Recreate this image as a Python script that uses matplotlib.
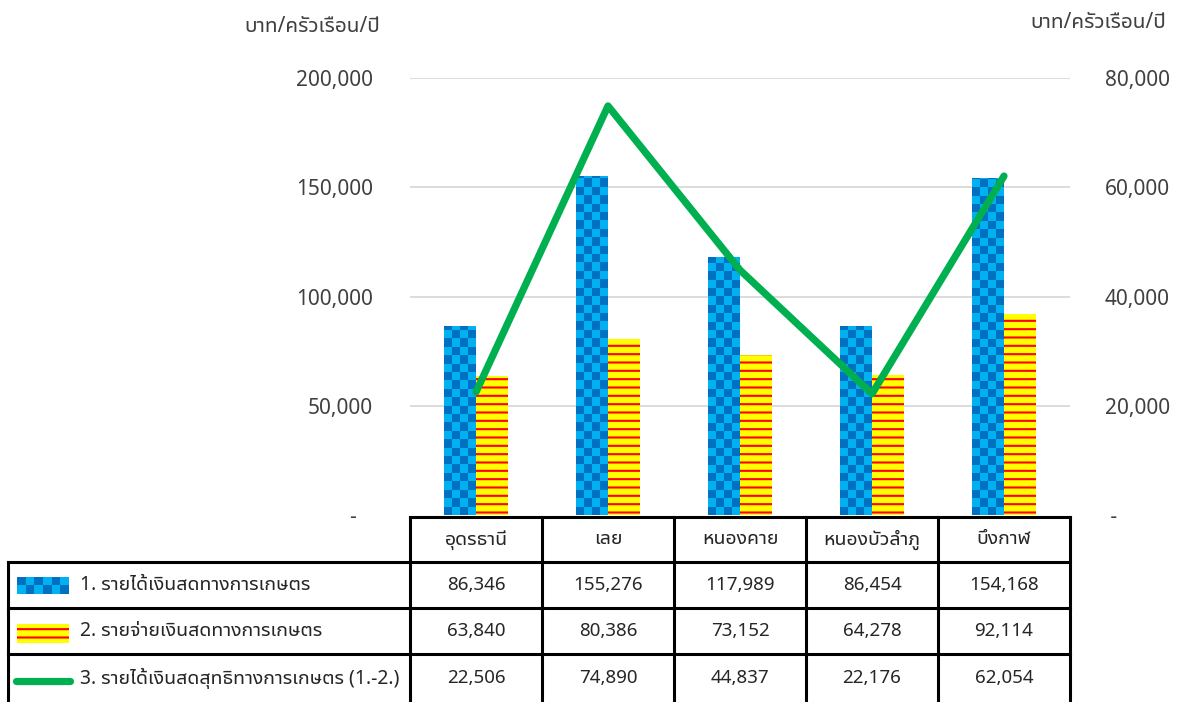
import numpy as np
import matplotlib

matplotlib.use("Agg")
import matplotlib.pyplot as plt
from matplotlib.lines import Line2D
from matplotlib.patches import Rectangle

provinces = ["อุดรธานี", "เลย", "หนองคาย", "หนองบัวลำภู", "บึงกาฬ"]
cash_income = [86346, 155276, 117989, 86454, 154168]
cash_expense = [63840, 80386, 73152, 64278, 92114]
net_income = [22506, 74890, 44837, 22176, 62054]
series_names = [
    "1. รายได้เงินสดทางการเกษตร",
    "2. รายจ่ายเงินสดทางการเกษตร",
    "3. รายได้เงินสดสุทธิทางการเกษตร (1.-2.)",
]
unit_label = "บาท/ครัวเรือน/ปี"

plt.rcParams["font.family"] = ["Noto Sans Thai UI", "Noto Sans Thai", "Loma", "Noto Sans", "DejaVu Sans"]
plt.rcParams["font.size"] = 13.5
plt.rcParams["hatch.linewidth"] = 1.5

DARK, LIGHT = "#0070C0", "#00B0F0"
YELLOW, RED, GREEN = "#FFFF00", "#FF0000", "#00B050"
AXIS_TXT = "#404040"
TABLE_TXT = "#262626"

W, H = 1181, 702
fig = plt.figure(figsize=(W / 100, H / 100), dpi=100)


def fx(px):
    return px / W


def fy(py):
    return 1 - py / H


ax_l, ax_r, ax_t, ax_b = 410, 1070, 78, 515
ax = fig.add_axes([fx(ax_l), fy(ax_b), fx(ax_r - ax_l), (ax_b - ax_t) / H])
ax2 = ax.twinx()

x = np.arange(len(provinces))
bw = 0.242
ax.set_xlim(-0.5, len(provinces) - 0.5)
ax.set_ylim(0, 200000)
ax2.set_ylim(0, 80000)

for yv in [50000, 100000, 150000, 200000]:
    ax.axhline(yv, color="#D9D9D9", lw=1.3, zorder=0)

cmap = matplotlib.colors.ListedColormap([DARK, LIGHT])

# blue bars get a checkerboard fill clipped to each bar
blue = ax.bar(x - bw / 2, cash_income, bw, color="none", lw=0, zorder=2)
cell_h = 8.4 / (ax_b - ax_t) * 200000
for bar in blue:
    x0, h = bar.get_x(), bar.get_height()
    nr = int(np.ceil(h / cell_h))
    img = np.indices((nr, 4)).sum(axis=0) % 2
    im = ax.imshow(img[::-1], cmap=cmap, extent=(x0, x0 + bw, 0, nr * cell_h),
                   aspect="auto", interpolation="nearest", zorder=2)
    im.set_clip_path(bar)

ax.bar(x + bw / 2, cash_expense, bw, color=YELLOW, edgecolor=RED, lw=0, hatch="--", zorder=2)

ax2.plot(x, net_income, color=GREEN, lw=5.2, solid_capstyle="round", solid_joinstyle="round",
         zorder=3, clip_on=False)


def fmt(v, left=True):
    if v == 0:
        return "-   " if left else " -"
    return f"{v:,.0f}"


ax.set_yticks([0, 50000, 100000, 150000, 200000])
ax.set_yticklabels([fmt(v) for v in ax.get_yticks()])
ax2.set_yticks([0, 20000, 40000, 60000, 80000])
ax2.set_yticklabels([fmt(v, False) for v in ax2.get_yticks()])
ax.tick_params(axis="y", length=0, pad=26.5, colors=AXIS_TXT, labelsize=15)
ax2.tick_params(axis="y", length=0, pad=25, colors=AXIS_TXT, labelsize=15)
ax.set_xticks([])
for a in (ax, ax2):
    for s in a.spines.values():
        s.set_visible(False)

fig.text(fx(312), fy(27), unit_label, ha="center", va="center", color=AXIS_TXT, fontsize=15)
fig.text(fx(1098), fy(22), unit_label, ha="center", va="center", color=AXIS_TXT, fontsize=15)

# data table under the plot
col_edges = [410 + 132 * i for i in range(len(provinces) + 1)]
row_edges = [517, 562, 608, 654, 702]
lk = dict(color="black", lw=2.2, solid_capstyle="projecting")
fig.add_artist(Line2D([fx(col_edges[0]), fx(col_edges[-1])], [fy(row_edges[0])] * 2, **lk))
for ry in row_edges[1:4]:
    fig.add_artist(Line2D([fx(8), fx(col_edges[-1])], [fy(ry)] * 2, **lk))
for cx in col_edges:
    fig.add_artist(Line2D([fx(cx)] * 2, [fy(row_edges[0]), fy(row_edges[-1] + 2)], **lk))
fig.add_artist(Line2D([fx(8)] * 2, [fy(row_edges[1]), fy(row_edges[-1] + 2)], **lk))

centers = [(a + b) / 2 for a, b in zip(col_edges[:-1], col_edges[1:])]
row_mid = [(a + b) / 2 for a, b in zip(row_edges[:-1], row_edges[1:])]
for cx, name in zip(centers, provinces):
    fig.text(fx(cx), fy(row_mid[0]), name, ha="center", va="center", color=TABLE_TXT, fontsize=14)
for r, vals in enumerate([cash_income, cash_expense, net_income]):
    for cx, v in zip(centers, vals):
        fig.text(fx(cx), fy(row_mid[r + 1]), f"{v:,}", ha="center", va="center", color=TABLE_TXT)
    fig.text(fx(80), fy(row_mid[r + 1]), series_names[r], ha="left", va="center", color=TABLE_TXT,
             fontsize=14)

# legend keys inside the table
kax = fig.add_axes([fx(17), fy(594), fx(52), 17 / H])
kax.imshow(np.indices((2, 6)).sum(axis=0) % 2, cmap=cmap, aspect="auto", interpolation="nearest")
kax.axis("off")
kax2 = fig.add_axes([fx(17), fy(643), fx(52), 19 / H])
kax2.add_patch(Rectangle((0, 0), 1, 1, facecolor=YELLOW, edgecolor=RED, lw=0, hatch="--"))
kax2.set_xlim(0, 1)
kax2.set_ylim(0, 1)
kax2.axis("off")
fig.add_artist(Line2D([fx(16), fx(70)], [fy(681)] * 2, color=GREEN, lw=5.2, solid_capstyle="round"))

fig.savefig("out.png", dpi=100)
